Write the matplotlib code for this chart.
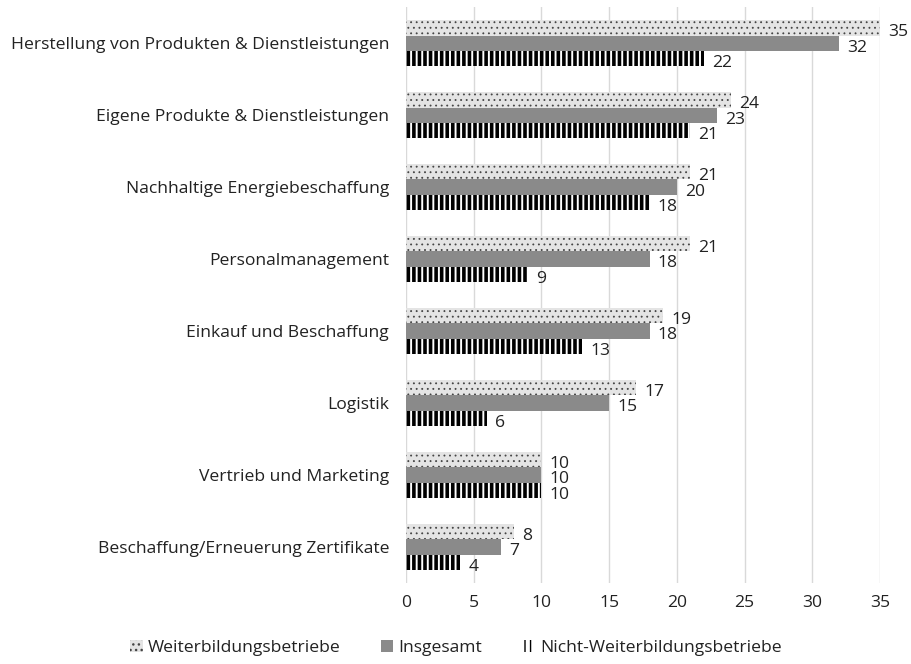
import matplotlib
matplotlib.use('Agg')
import matplotlib.pyplot as plt
import numpy as np

plt.rcParams['font.family'] = ['Open Sans', 'DejaVu Sans']

kategorien = [
    'Herstellung von Produkten & Dienstleistungen',
    'Eigene Produkte & Dienstleistungen',
    'Nachhaltige Energiebeschaffung',
    'Personalmanagement',
    'Einkauf und Beschaffung',
    'Logistik',
    'Vertrieb und Marketing',
    'Beschaffung/Erneuerung Zertifikate',
]
weiterbildung = [35, 24, 21, 21, 19, 17, 10, 8]
insgesamt = [32, 23, 20, 18, 18, 15, 10, 7]
nicht_weiterbildung = [22, 21, 18, 9, 13, 6, 10, 4]

fs = 12.6
fig = plt.figure(figsize=(9.12, 6.64), dpi=100)
ax = fig.add_axes([0.445, 0.122, 0.52, 0.867])

y = np.arange(len(kategorien))
h = 0.215

serien = [
    (weiterbildung, 'Weiterbildungsbetriebe', -h, dict(color='#e4e4e4', edgecolor='#444444', hatch='...', linewidth=0), 0.6),
    (insgesamt, 'Insgesamt', 0, dict(color='#8a8a8a', linewidth=0), None),
    (nicht_weiterbildung, 'Nicht-Weiterbildungsbetriebe', h, dict(color='white', edgecolor='black', hatch='|||', linewidth=0), 2.6),
]

for werte, name, off, stil, hlw in serien:
    bars = ax.barh(y + off, werte, height=h, label=name, **stil)
    if hlw is not None:
        for b in bars:
            try:
                b.set_hatch_linewidth(hlw)
            except AttributeError:
                pass
    for b, v in zip(bars, werte):
        ax.text(v + 0.6, b.get_y() + b.get_height() / 2 + 0.06, str(v),
                va='center', ha='left', fontsize=fs, color='#222222')

ax.set_yticks(y)
ax.set_yticklabels(kategorien, fontsize=fs, color='#222222')
ax.set_ylim(len(kategorien) - 0.5, -0.5)
ax.set_xlim(0, 35)
ax.set_xticks(range(0, 36, 5))
ax.tick_params(axis='x', labelsize=fs, colors='#222222', length=0, pad=9)
ax.tick_params(axis='y', length=0, pad=12)
ax.grid(axis='x', color='#d9d9d9', linewidth=1)
ax.set_axisbelow(True)
for s in ax.spines.values():
    s.set_visible(False)

leg = fig.legend(loc='lower center', bbox_to_anchor=(0.5, -0.012), ncol=3, frameon=False,
                 fontsize=fs, handlelength=0.7, handleheight=0.7, handletextpad=0.3,
                 columnspacing=2.3)
for t in leg.get_texts():
    t.set_color('#222222')

fig.savefig('out.png', dpi=100)
